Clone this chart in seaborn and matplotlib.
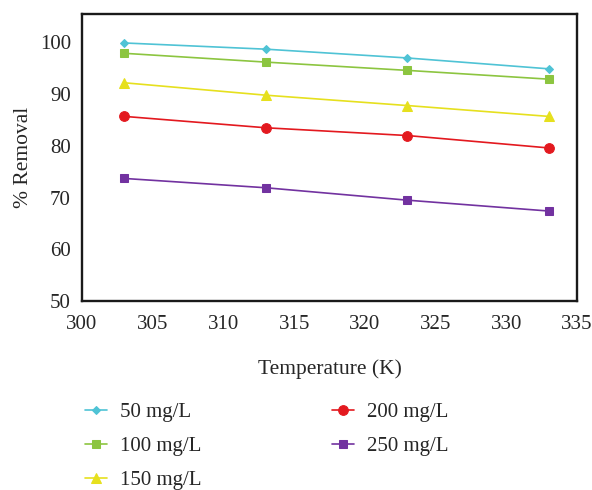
import matplotlib
matplotlib.use("Agg")
import matplotlib.pyplot as plt
import seaborn as sns
import pandas as pd

temperature = [303, 313, 323, 333]
series_names = ["50 mg/L", "100 mg/L", "150 mg/L", "200 mg/L", "250 mg/L"]
removal_50 = [99.9, 98.7, 97.0, 94.9]
removal_100 = [97.9, 96.2, 94.6, 92.9]
removal_150 = [92.2, 89.8, 87.8, 85.7]
removal_200 = [85.7, 83.5, 82.0, 79.6]
removal_250 = [73.7, 71.9, 69.5, 67.4]
x_ticks = [300, 305, 310, 315, 320, 325, 330, 335]
y_ticks = [50, 60, 70, 80, 90, 100]

colors = ["#4fc3d5", "#8cc540", "#e6e01e", "#e3191f", "#7232a0"]
markers = ["D", "s", "^", "o", "s"]
msizes = [4.5, 6, 7.5, 7, 6]

rows = []
for name, vals in zip(series_names, [removal_50, removal_100, removal_150, removal_200, removal_250]):
    for t, v in zip(temperature, vals):
        rows.append({"T": t, "R": v, "S": name})
df = pd.DataFrame(rows)

sns.set_theme(style="white")
plt.rcParams["font.family"] = ["Liberation Serif", "DejaVu Serif"]

fig = plt.figure(figsize=(5.92, 4.9), dpi=100)
ax = fig.add_axes([0.1385, 0.3857, 0.8362, 0.5857])

for name, c, m, ms in zip(series_names, colors, markers, msizes):
    sub = df[df["S"] == name]
    sns.lineplot(data=sub, x="T", y="R", ax=ax, color=c, marker=m, markersize=ms,
                 markeredgecolor=c, linewidth=1.2, label=name, legend=False)

ax.set_xlim(300, 335)
ax.set_ylim(50, 105.5)
ax.set_xticks(x_ticks)
ax.set_yticks(y_ticks)
ax.tick_params(axis="x", labelsize=15, length=0, pad=10)
ax.tick_params(axis="y", labelsize=15, length=0, pad=8)
ax.set_xlabel("Temperature (K)", fontsize=15.5, labelpad=18)
ax.set_ylabel("% Removal", fontsize=15.5, labelpad=5)
for s in ax.spines.values():
    s.set_color("#1a1a1a")
    s.set_linewidth(1.7)

handles, labels = ax.get_legend_handles_labels()
fig.legend(handles, labels, loc="upper left", bbox_to_anchor=(0.130, 0.196), ncol=2,
           frameon=False, fontsize=15, handlelength=1.05, columnspacing=6.25,
           labelspacing=0.7, handletextpad=0.62, borderaxespad=0.0)

fig.savefig("out.png", dpi=100)
